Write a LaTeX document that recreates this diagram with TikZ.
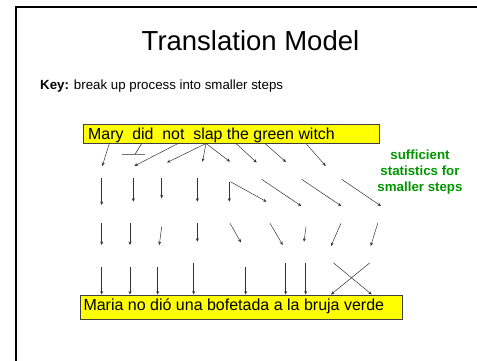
\documentclass[tikz,border=0pt]{standalone}
\usepackage{fontspec}
\setmainfont{Liberation Sans}
\usetikzlibrary{arrows.meta}
\definecolor{keygreen}{RGB}{0,150,0}
\definecolor{boxyellow}{RGB}{255,255,0}
\tikzset{
  arr/.style={draw=black!80, line width=0.5pt, -{Stealth[length=3.5pt,width=3pt]}},
  ybox/.style={draw=black!75, line width=1pt, fill=boxyellow, anchor=north west, inner sep=0pt},
  frameline/.style={draw=black, line width=2pt},
  boxtext/.style={anchor=base west, inner sep=0pt},
}
\begin{document}
\begin{tikzpicture}[x=1pt,y=-1pt]
\useasboundingbox (0,0) rectangle (477,360);
% slide frame
\coordinate (fbl) at (16,361);
\coordinate (ftl) at (16,7);
\coordinate (ftr) at (478,7);
\draw[frameline] (fbl) -- (ftl) -- (ftr);
% title and key
\node[anchor=base, inner sep=0pt, font=\fontsize{27.5}{31}\selectfont] (title) at (250.5,50) {Translation Model};
\node[anchor=base west, inner sep=0pt, font=\fontsize{13.3}{15}\selectfont] (key) at (40,89.3) {\textbf{Key:} break up process into smaller steps};
% boxes
\node[ybox, minimum width=296pt, minimum height=19pt] (topbox) at (83,124) {};
\node[boxtext, font=\fontsize{15.9}{18}\selectfont] (toptext) at (88,139) {Mary\ \ did\ \ not\ \ slap the green witch};
\node[ybox, minimum width=322pt, minimum height=24pt] (botbox) at (80,295) {};
\node[boxtext, font=\fontsize{16}{18}\selectfont] (bottext) at (83.3,310.5) {Maria no dió una bofetada a la bruja verde};
% green note
\node[align=center, inner sep=0pt, text=keygreen, font=\bfseries\fontsize{13.3}{16}\selectfont] (note) at (420,172) {sufficient\\statistics for\\smaller steps};
% "did" goes to nothing
\coordinate (did0) at (141.7,143.5);
\coordinate (did1) at (135,154.3);
\coordinate (nullL) at (121.7,154.3);
\coordinate (nullR) at (145,154.3);
\draw[draw=black!80, line width=0.6pt] (did0) -- (did1);
\draw[draw=black!55, line width=1.4pt] (nullL) -- (nullR);
% arrows
\foreach \i/\ax/\ay/\bx/\by in {
  1/109.3/143.5/102.3/166,
  2/178/143.5/134.3/166,
  3/206/143.5/167/162.5,
  4/206/143.5/202.5/161.7,
  5/206/143.5/230/161.7,
  6/236/143.5/256.7/162.5,
  7/265/143.5/286/162,
  8/306/143.5/325.7/166,
  9/101.7/178.3/101.7/205,
  10/133.3/178.3/133.3/201.7,
  11/161.7/178.3/161.7/198.3,
  12/197.3/178.3/197.3/201.7,
  13/229.3/181.7/229.3/201.7,
  14/230.5/181.7/266.5/201.7,
  15/261.7/179.3/301.3/206,
  16/301.7/179.3/341.3/206,
  17/341.7/179.3/381/206,
  18/101.7/223.3/101.7/245,
  19/130/223.3/130/245,
  20/161.7/226.7/159.3/245,
  21/197.3/223.3/197.3/241.7,
  22/230/223.3/241/242.5,
  23/270/223.3/282.7/245,
  24/306/226.7/304/241.7,
  25/341/223.3/331/246,
  26/377.7/223.3/370.7/246,
  27/101.7/266.7/101.7/294.5,
  28/130/266.7/130/294.5,
  29/157.7/266.7/157.7/294.5,
  30/193.7/262.7/193.7/294.5,
  31/245.7/266.7/245.7/294.5,
  32/285.7/262.7/285.7/294.5,
  33/305.7/262.7/305.7/294.5,
  34/333.3/262.7/371.7/294.5,
  35/370/262.7/331/294.5}{
  \coordinate (s\i) at (\ax,\ay);
  \coordinate (e\i) at (\bx,\by);
  \draw[arr] (s\i) -- (e\i);
}
\end{tikzpicture}
\end{document}
